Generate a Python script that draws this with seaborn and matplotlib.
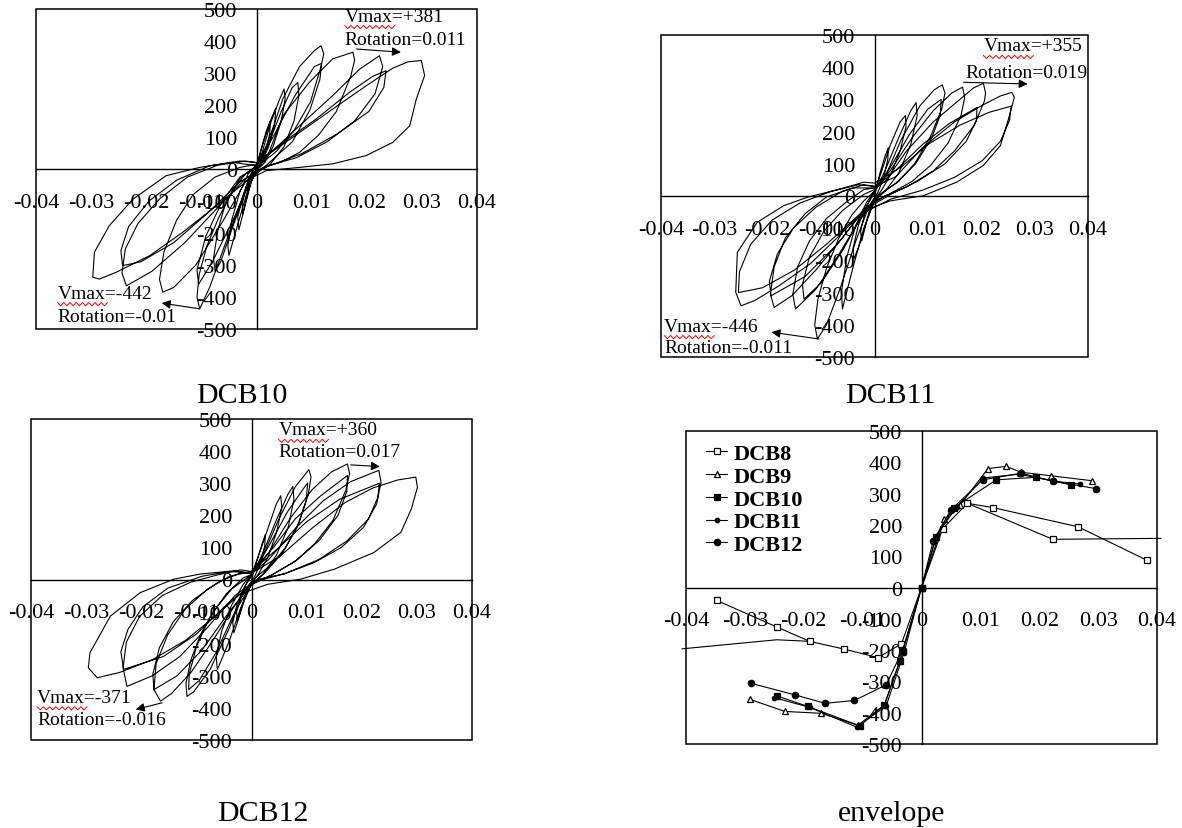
import numpy as np
import matplotlib
matplotlib.use("Agg")
import matplotlib.pyplot as plt
import seaborn as sns
from matplotlib.patches import Rectangle
from matplotlib.lines import Line2D
from matplotlib.transforms import IdentityTransform

# ---------------- data ----------------
x_ticks = [-0.04, -0.03, -0.02, -0.01, 0.0, 0.01, 0.02, 0.03, 0.04]
x_tick_labels = ["-0.04", "-0.03", "-0.02", "-0.01", "0", "0.01", "0.02", "0.03", "0.04"]
y_ticks = [-500, -400, -300, -200, -100, 0, 100, 200, 300, 400, 500]
y_tick_labels = ["-500", "-400", "-300", "-200", "-100", "0", "100", "200", "300", "400", "500"]

# hysteresis trace DCB10 (rotation, shear kN)
dcb10_loop = [
    (0, 0), (0.0008, 60), (0.0018, 120), (0.0025, 150), (0.0024, 110), (0.0015, 50), (0.0005, 10),
    (-0.0005, -15), (-0.0015, -70), (-0.0025, -140), (-0.0026, -110), (-0.0018, -50), (-0.0008, -10), (0, 10),
    (0.0012, 80), (0.0025, 150), (0.0035, 190), (0.0033, 140), (0.0022, 70), (0.0008, 15),
    (-0.0008, -30), (-0.002, -110), (-0.0032, -190), (-0.0034, -150), (-0.0024, -80), (-0.001, -15), (0, 10),
    (0.001, 50), (0.0025, 140), (0.004, 210), (0.005, 250), (0.0052, 220), (0.0045, 150), (0.003, 70), (0.0015, 20),
    (0, -5), (-0.0015, -60), (-0.003, -150), (-0.0045, -240), (-0.005, -270), (-0.0052, -240), (-0.0045, -160),
    (-0.003, -70), (-0.0015, -15), (0, 10),
    (0.002, 70), (0.0045, 180), (0.0065, 255), (0.0075, 270), (0.0077, 230), (0.0068, 150), (0.005, 70), (0.0025, 15),
    (0, -10), (-0.002, -70), (-0.0045, -190), (-0.0065, -290), (-0.0075, -320), (-0.0078, -280), (-0.007, -190),
    (-0.0055, -100), (-0.003, -30), (0, 10),
    (0.002, 80), (0.0048, 220), (0.0078, 320), (0.0105, 370), (0.0117, 385), (0.0122, 360), (0.0117, 320),
    (0.0098, 210), (0.0068, 120), (0.0036, 55), (0.0011, 20), (-0.001, -20), (-0.003, -110), (-0.006, -250),
    (-0.0085, -370), (-0.0103, -437), (-0.0108, -400), (-0.0104, -330), (-0.009, -240), (-0.0068, -150),
    (-0.0042, -65), (-0.002, -15), (0, 10),
    (0.003, 100), (0.007, 230), (0.0105, 320), (0.0118, 330), (0.0115, 280), (0.0097, 185), (0.0065, 85), (0.002, 15),
    (-0.001, -30), (-0.004, -150), (-0.008, -290), (-0.0105, -360), (-0.0108, -315), (-0.0092, -210),
    (-0.0062, -100), (-0.003, -25), (0, 5),
    (0.002, 40), (0.0048, 167), (0.0096, 271), (0.0138, 344), (0.0175, 365), (0.0178, 340), (0.0171, 290),
    (0.0145, 180), (0.0112, 105), (0.0078, 52), (0.0045, 22), (0.001, 3), (-0.002, -40), (-0.006, -160),
    (-0.011, -300), (-0.015, -370), (-0.017, -385), (-0.0176, -345), (-0.0168, -260), (-0.0145, -160),
    (-0.0115, -80), (-0.0075, -25), (-0.003, 5), (0, 15),
    (0.002, 42), (0.0078, 135), (0.0138, 229), (0.0187, 312), (0.0223, 354), (0.0229, 320), (0.0215, 235),
    (0.0178, 150), (0.0128, 85), (0.0072, 35), (0.0016, 8), (-0.002, -30), (-0.007, -120), (-0.013, -230),
    (-0.019, -320), (-0.0236, -365), (-0.0244, -325), (-0.0238, -250), (-0.0215, -170), (-0.0175, -92),
    (-0.0125, -25), (-0.007, 12), (-0.002, 25), (0, 20),
    (0.0048, 83), (0.0108, 156), (0.0169, 240), (0.0211, 290), (0.0235, 307), (0.0231, 255), (0.0204, 180),
    (0.0145, 108), (0.0082, 48), (0.002, 8), (-0.003, -40), (-0.009, -140), (-0.015, -230), (-0.021, -290),
    (-0.0243, -302), (-0.0246, -255), (-0.0232, -180), (-0.0195, -100), (-0.0145, -35), (-0.0085, 10),
    (-0.003, 25), (0, 20),
    (0.005, 80), (0.0138, 187), (0.0199, 260), (0.0247, 315), (0.0275, 335), (0.0299, 339), (0.0305, 292),
    (0.029, 219), (0.0278, 135), (0.0247, 83), (0.0199, 42), (0.0138, 16), (0.0078, 5), (0.0018, -5),
    (-0.0013, -31), (-0.0073, -115), (-0.0134, -198), (-0.0194, -271), (-0.0255, -323), (-0.0285, -344),
    (-0.0297, -338), (-0.0294, -260), (-0.0267, -177), (-0.0224, -94), (-0.0164, -21), (-0.0103, 5),
    (-0.0043, 21), (0, 10),
]

# hysteresis trace DCB11
dcb11_loop = [
    (0, 0), (0.001, 70), (0.002, 125), (0.0026, 150), (0.0025, 115), (0.0017, 55), (0.0006, 10),
    (-0.0006, -20), (-0.0015, -80), (-0.0024, -140), (-0.0026, -110), (-0.0018, -50), (-0.0007, -5), (0, 15),
    (0.0012, 70), (0.003, 160), (0.0048, 230), (0.0058, 250), (0.0059, 215), (0.0048, 140), (0.003, 65),
    (0.0012, 15), (0, -10), (-0.0015, -80), (-0.003, -160), (-0.0039, -196), (-0.004, -160), (-0.003, -90),
    (-0.0015, -30), (0, 10),
    (0.002, 80), (0.0045, 180), (0.0068, 265), (0.0078, 290), (0.008, 250), (0.0068, 160), (0.0045, 70),
    (0.002, 15), (0, -15), (-0.002, -100), (-0.004, -220), (-0.0057, -330), (-0.006, -351), (-0.0062, -300),
    (-0.0052, -190), (-0.0035, -90), (-0.0015, -20), (0, 15),
    (0.002, 60), (0.005, 175), (0.0085, 280), (0.0112, 330), (0.0127, 345), (0.0132, 320), (0.0126, 270),
    (0.0105, 185), (0.0075, 100), (0.0045, 45), (0.0015, 10), (-0.001, -30), (-0.0035, -140), (-0.0065, -290),
    (-0.009, -400), (-0.0107, -444), (-0.0112, -400), (-0.0106, -320), (-0.009, -225), (-0.0068, -135),
    (-0.0043, -60), (-0.002, -15), (0, 15),
    (0.003, 90), (0.0065, 190), (0.01, 270), (0.0125, 300), (0.0123, 250), (0.0107, 180), (0.0077, 100),
    (0.004, 40), (0.001, 5), (-0.002, -50), (-0.006, -170), (-0.01, -270), (-0.0132, -320), (-0.0135, -275),
    (-0.0122, -190), (-0.0095, -110), (-0.006, -45), (-0.002, 5), (0, 20),
    (0.003, 80), (0.007, 180), (0.011, 265), (0.0145, 320), (0.0165, 338), (0.0169, 305), (0.0162, 250),
    (0.0138, 165), (0.0105, 95), (0.007, 45), (0.003, 8), (0, -15), (-0.003, -80), (-0.007, -190),
    (-0.011, -290), (-0.0148, -351), (-0.0153, -305), (-0.0144, -220), (-0.0122, -140), (-0.009, -70),
    (-0.005, -15), (-0.002, 20), (0, 25),
    (0.002, 45), (0.006, 140), (0.011, 230), (0.016, 300), (0.0185, 335), (0.0204, 350), (0.0208, 320),
    (0.0206, 295), (0.0187, 220), (0.015, 140), (0.011, 78), (0.006, 28), (0.002, 0), (-0.002, -40),
    (-0.006, -130), (-0.011, -230), (-0.0155, -310), (-0.0188, -346), (-0.0195, -305), (-0.0188, -220),
    (-0.0167, -130), (-0.013, -55), (-0.009, -3), (-0.004, 25), (0, 25),
    (0.004, 80), (0.009, 160), (0.014, 225), (0.0192, 275), (0.0191, 235), (0.0172, 170), (0.0132, 100),
    (0.008, 45), (0.003, 5), (-0.002, -45), (-0.007, -150), (-0.013, -250), (-0.0194, -310), (-0.0197, -265),
    (-0.0182, -180), (-0.0152, -100), (-0.011, -35), (-0.006, 15), (-0.002, 35), (0, 30),
    (0.004, 60), (0.009, 150), (0.015, 230), (0.02, 280), (0.0235, 310), (0.0257, 322), (0.0262, 307),
    (0.0251, 239), (0.0236, 157), (0.0204, 95), (0.0154, 43), (0.0092, 1), (0.003, -15), (-0.002, -45),
    (-0.007, -130), (-0.012, -210), (-0.018, -280), (-0.0225, -325), (-0.025, -341), (-0.026, -299),
    (-0.0257, -175), (-0.022, -82), (-0.017, -30), (-0.0126, -4), (-0.0064, 22), (-0.002, 43), (0, 40),
    (0.005, 90), (0.01, 160), (0.016, 220), (0.0215, 260), (0.0256, 279), (0.0253, 235), (0.0236, 170),
    (0.0202, 110), (0.015, 58), (0.009, 18), (0.003, -10), (-0.003, -60), (-0.009, -150), (-0.015, -230),
    (-0.021, -285), (-0.0255, -300), (-0.0253, -235), (-0.0232, -150), (-0.0192, -75), (-0.014, -22),
    (-0.008, 15), (-0.003, 35), (0, 30),
]

# hysteresis trace DCB12
dcb12_loop = [
    (0, 0), (0.001, 60), (0.002, 115), (0.0025, 140), (0.0024, 105), (0.0016, 50), (0.0006, 10),
    (-0.0006, -20), (-0.0017, -80), (-0.0026, -130), (-0.0027, -100), (-0.0018, -45), (-0.0007, -5), (0, 15),
    (0.0012, 70), (0.003, 160), (0.0045, 235), (0.0053, 261), (0.0055, 225), (0.0046, 150), (0.003, 70),
    (0.0012, 15), (0, -10), (-0.0012, -60), (-0.0025, -130), (-0.0032, -166), (-0.0034, -135),
    (-0.0026, -75), (-0.0012, -20), (0, 10),
    (0.002, 80), (0.0045, 185), (0.0066, 265), (0.0075, 290), (0.0077, 250), (0.0067, 165), (0.0045, 75),
    (0.002, 15), (0, -15), (-0.002, -90), (-0.004, -190), (-0.0058, -265), (-0.0062, -280), (-0.0064, -240),
    (-0.0054, -160), (-0.0036, -80), (-0.0015, -15), (0, 15),
    (0.002, 70), (0.005, 190), (0.008, 290), (0.0104, 342), (0.0108, 320), (0.0103, 265), (0.0087, 180),
    (0.0062, 100), (0.0035, 45), (0.001, 10), (-0.0015, -40), (-0.004, -150), (-0.0075, -280), (-0.0105, -350),
    (-0.0117, -364), (-0.0119, -325), (-0.011, -250), (-0.0092, -170), (-0.0066, -92), (-0.0035, -28), (0, 15),
    (0.003, 100), (0.0065, 210), (0.0095, 285), (0.0102, 300), (0.0099, 245), (0.0082, 160), (0.0056, 82),
    (0.0025, 22), (0, -15), (-0.003, -100), (-0.0065, -230), (-0.0095, -315), (-0.0114, -343),
    (-0.0113, -295), (-0.01, -210), (-0.0077, -122), (-0.0046, -45), (-0.0015, 5), (0, 15),
    (0.003, 80), (0.007, 190), (0.011, 280), (0.0145, 335), (0.0174, 360), (0.0178, 330), (0.0171, 278),
    (0.0148, 185), (0.0115, 112), (0.0078, 55), (0.0035, 12), (0, -15), (-0.003, -80), (-0.007, -190),
    (-0.011, -290), (-0.0145, -355), (-0.0165, -379), (-0.0177, -343), (-0.0173, -262), (-0.0152, -172),
    (-0.012, -92), (-0.008, -30), (-0.004, 10), (0, 25),
    (0.004, 100), (0.008, 190), (0.0125, 260), (0.0174, 324), (0.0173, 275), (0.0157, 200), (0.0123, 122),
    (0.0082, 60), (0.0035, 13), (0, -15), (-0.004, -100), (-0.009, -220), (-0.0135, -300), (-0.0177, -343),
    (-0.0179, -295), (-0.0167, -212), (-0.0142, -132), (-0.0107, -65), (-0.006, -8), (-0.002, 20), (0, 20),
    (0.003, 60), (0.008, 160), (0.013, 245), (0.018, 305), (0.0231, 340), (0.0235, 303), (0.0227, 235),
    (0.0203, 162), (0.0163, 100), (0.0113, 52), (0.006, 18), (0.001, 0), (-0.003, -50), (-0.008, -150),
    (-0.013, -240), (-0.018, -300), (-0.0226, -333), (-0.0233, -275), (-0.0227, -195), (-0.0203, -115),
    (-0.0162, -50), (-0.011, -8), (-0.006, 15), (-0.002, 30), (0, 25),
    (0.005, 100), (0.01, 180), (0.016, 250), (0.0232, 300), (0.0229, 255), (0.0212, 188), (0.0173, 120),
    (0.0122, 62), (0.006, 18), (0.001, -5), (-0.004, -70), (-0.01, -170), (-0.016, -240), (-0.0232, -280),
    (-0.0237, -225), (-0.0224, -155), (-0.0197, -85), (-0.0152, -27), (-0.009, 10), (-0.004, 25), (0, 20),
    (0.005, 70), (0.011, 160), (0.017, 240), (0.022, 285), (0.0265, 310), (0.0298, 319), (0.0301, 287),
    (0.029, 220), (0.0271, 147), (0.0222, 84), (0.015, 32), (0.0089, 1), (0.0029, -15), (-0.002, -45),
    (-0.007, -120), (-0.012, -190), (-0.018, -250), (-0.024, -290), (-0.028, -306), (-0.0296, -275),
    (-0.0293, -228), (-0.0256, -114), (-0.0202, -41), (-0.0141, 1), (-0.0093, 17), (-0.0032, 27), (0, 20),
]

# envelope curves
env_dcb8_x = [-0.0348, -0.0246, -0.0190, -0.0131, -0.0074, -0.0034, 0.0, 0.0036, 0.0078, 0.0122, 0.0266, 0.0383]
env_dcb8_y = [-41, -126, -172, -197, -224, -180, 0, 188, 269, 255, 194, 87]
env_dcb8b_neg_x = [-0.0407, -0.0246, -0.0190]
env_dcb8b_neg_y = [-196, -167, -172]
env_dcb8b_pos_x = [0.0078, 0.0223, 0.0407]
env_dcb8b_pos_y = [269, 154, 157]
env_dcb9_x = [-0.0292, -0.0232, -0.0170, -0.0108, -0.0063, -0.0037, 0.0, 0.0039, 0.0065, 0.0113, 0.0144, 0.0169, 0.0220, 0.0290]
env_dcb9_y = [-357, -396, -402, -440, -375, -236, 0, 218, 262, 380, 387, 368, 357, 341]
env_dcb10_x = [-0.0246, -0.0193, -0.0105, -0.0063, -0.0037, 0.0, 0.0025, 0.0055, 0.0127, 0.0194, 0.0254]
env_dcb10_y = [-346, -380, -442, -375, -236, 0, 160, 255, 344, 352, 328]
env_dcb11_x = [-0.0250, -0.0190, -0.0110, -0.0060, -0.0030, 0.0, 0.0025, 0.0060, 0.0105, 0.0165, 0.0225, 0.0270]
env_dcb11_y = [-352, -383, -446, -378, -210, 0, 165, 258, 350, 362, 340, 330]
env_dcb12_x = [-0.0290, -0.0215, -0.0164, -0.0114, -0.0060, -0.0032, 0.0, 0.0020, 0.0050, 0.0104, 0.0169, 0.0223, 0.0296]
env_dcb12_y = [-306, -343, -370, -361, -311, -200, 0, 150, 248, 344, 365, 340, 316]
legend_labels = ["DCB8", "DCB9", "DCB10", "DCB11", "DCB12"]

panel_titles = ["DCB10", "DCB11", "DCB12", "envelope"]

# ---------------- style ----------------
sns.set_theme(style="white")
plt.rcParams["font.family"] = ["Liberation Serif", "DejaVu Serif"]
plt.rcParams["axes.edgecolor"] = "black"
plt.rcParams["text.color"] = "black"
plt.rcParams["xtick.color"] = "black"
plt.rcParams["ytick.color"] = "black"

fig = plt.figure(figsize=(11.82, 8.29), dpi=100)
W, H = 1182.0, 829.0


def px_rect(x0, y0, x1, y1):
    return [x0 / W, 1 - y1 / H, (x1 - x0) / W, (y1 - y0) / H]


ax1 = fig.add_axes(px_rect(36, 10, 477, 330))
ax2 = fig.add_axes(px_rect(661, 36, 1088, 358))
ax3 = fig.add_axes(px_rect(31, 420, 472, 741))
ax4 = fig.add_axes(px_rect(686, 432, 1157, 745))


def setup(ax):
    ax.set_xlim(-0.04, 0.04)
    ax.set_ylim(-500, 500)
    ax.set_facecolor("white")
    ax.spines["top"].set_visible(False)
    ax.spines["right"].set_visible(False)
    for s in ["left", "bottom"]:
        ax.spines[s].set_position(("data", 0))
        ax.spines[s].set_linewidth(1.0)
        ax.spines[s].set_color("black")
    ax.add_patch(Rectangle((0, 0), 1, 1, transform=ax.transAxes, fill=False,
                           lw=1.1, ec="black", clip_on=False, zorder=5))
    ax.set_xticks(x_ticks)
    ax.set_xticklabels(x_tick_labels)
    ax.set_yticks(y_ticks)
    ax.set_yticklabels(y_tick_labels)
    ax.tick_params(axis="x", direction="in", length=6, width=0.9, pad=17, labelsize=16,
                   labelcolor="black")
    ax.tick_params(axis="y", direction="in", length=6, width=0.9, pad=14, labelsize=16,
                   labelcolor="black")
    ax.set_xlabel("")
    ax.set_ylabel("")
    ax.grid(False)


def squiggle(ax, x, y, width_px=50, dy_px=-11):
    X, Y = ax.transData.transform((x, y))
    n = 16
    xs = X + np.arange(n + 1) * width_px / n
    ys = Y + dy_px + np.where(np.arange(n + 1) % 2 == 0, 1.6, -1.6)
    ax.add_line(Line2D(xs, ys, transform=IdentityTransform(), color="red", lw=0.7, clip_on=False))


def annotate_panel(ax, vpos, rpos, vneg, rneg, arr_pos, arr_neg):
    for (txt, x, y) in [vpos, rpos, vneg, rneg]:
        ax.text(x, y, txt, fontsize=14, ha="left", va="center", color="black", zorder=6)
    squiggle(ax, vpos[1], vpos[2])
    squiggle(ax, vneg[1], vneg[2])
    for (tail, head) in [arr_pos, arr_neg]:
        ax.annotate("", xy=head, xytext=tail,
                    arrowprops=dict(arrowstyle="-|>", color="black", lw=0.8, mutation_scale=13,
                                    shrinkA=0, shrinkB=0))


loops = [(ax1, dcb10_loop), (ax2, dcb11_loop), (ax3, dcb12_loop)]
for ax, loop in loops:
    setup(ax)
    lx = [p[0] for p in loop]
    ly = [p[1] for p in loop]
    sns.lineplot(x=lx, y=ly, sort=False, estimator=None, color="black", linewidth=0.8, ax=ax)
    ax.set_xlim(-0.04, 0.04)
    ax.set_ylim(-500, 500)

annotate_panel(ax1, ("Vmax=+381", 0.0160, 478), ("Rotation=0.011", 0.0160, 406),
               ("Vmax=-442", -0.0361, -388), ("Rotation=-0.01", -0.0361, -460),
               ((0.0181, 375), (0.0262, 365)), ((-0.0103, -437), (-0.0172, -419)))
annotate_panel(ax2, ("Vmax=+355", 0.0204, 466), ("Rotation=0.019", 0.0170, 385),
               ("Vmax=-446", -0.0394, -404), ("Rotation=-0.011", -0.0394, -472),
               ((0.0167, 353), (0.0287, 348)), ((-0.0104, -444), (-0.0193, -423)))
annotate_panel(ax3, ("Vmax=+360", 0.0049, 466), ("Rotation=0.017", 0.0049, 398),
               ("Vmax=-371", -0.0389, -367), ("Rotation=-0.016", -0.0389, -437),
               ((0.0180, 357), (0.0233, 352)), ((-0.0162, -384), (-0.0210, -405)))

# envelope panel
setup(ax4)
lw_env = 0.8
sns.lineplot(x=env_dcb8b_neg_x, y=env_dcb8b_neg_y, sort=False, estimator=None, color="black",
             linewidth=lw_env, ax=ax4, clip_on=False)
sns.lineplot(x=env_dcb8b_pos_x, y=env_dcb8b_pos_y, sort=False, estimator=None, color="black",
             linewidth=lw_env, ax=ax4, clip_on=False, marker="s", markevery=[1], markersize=5,
             markerfacecolor="white", markeredgecolor="black", markeredgewidth=0.9)
series = [
    (env_dcb8_x, env_dcb8_y, "s", 5, "white"),
    (env_dcb9_x, env_dcb9_y, "^", 5, "white"),
    (env_dcb10_x, env_dcb10_y, "s", 5, "black"),
    (env_dcb11_x, env_dcb11_y, "o", 3.2, "black"),
    (env_dcb12_x, env_dcb12_y, "o", 4.6, "black"),
]
handles = []
for (sx, sy, mk, ms, fc), lab in zip(series, legend_labels):
    sns.lineplot(x=sx, y=sy, sort=False, estimator=None, color="black", linewidth=lw_env, ax=ax4,
                 marker=mk, markersize=ms, markerfacecolor=fc, markeredgecolor="black",
                 markeredgewidth=0.9, clip_on=False)
    handles.append(Line2D([], [], color="black", lw=lw_env, marker=mk, markersize=ms,
                          markerfacecolor=fc, markeredgecolor="black", markeredgewidth=0.9))
ax4.set_xlim(-0.04, 0.04)
ax4.set_ylim(-500, 500)
leg = ax4.legend(handles, legend_labels, loc="upper left", bbox_to_anchor=(0.0425, 0.96),
                 frameon=False, borderaxespad=0, borderpad=0, handlelength=0.95,
                 handletextpad=0.3, labelspacing=0.1, prop={"size": 16, "weight": "bold"})
for t in leg.get_texts():
    t.set_color("black")

# captions
cap_y_top = 1 - 403 / H
cap_y_bot = 1 - 821 / H
fig.text(242 / W, cap_y_top, panel_titles[0], fontsize=21.5, ha="center", va="baseline", color="black")
fig.text(890 / W, cap_y_top, panel_titles[1], fontsize=21.5, ha="center", va="baseline", color="black")
fig.text(263 / W, cap_y_bot, panel_titles[2], fontsize=21.5, ha="center", va="baseline", color="black")
fig.text(892 / W, cap_y_bot, panel_titles[3], fontsize=21.5, ha="center", va="baseline", color="black")

fig.savefig("out.png", dpi=100, facecolor="white")
